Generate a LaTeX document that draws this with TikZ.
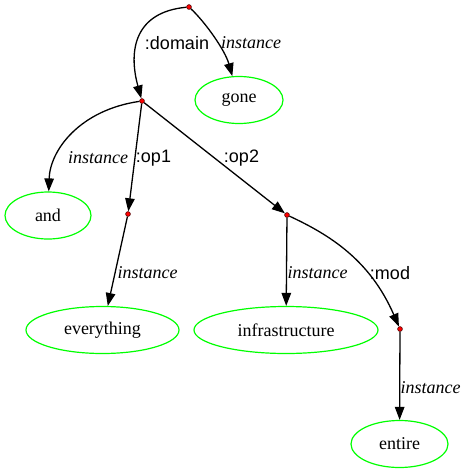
\documentclass[tikz,border=0pt]{standalone}
\usepackage{fontspec}
\setmainfont{Liberation Serif}
\setsansfont{Liberation Sans}
\usetikzlibrary{shapes.geometric,arrows.meta}
\definecolor{amrgreen}{RGB}{0,255,0}
\begin{document}
\begin{tikzpicture}[x=1pt,y=-1pt,
  concept/.style={ellipse, draw=amrgreen, line width=1.2pt, inner sep=0pt, minimum height=47pt, font=\fontsize{18}{20}\selectfont},
  dotnode/.style={circle, fill=red, draw=black!70!red, line width=0.6pt, inner sep=0pt, minimum size=4.8pt},
  edge/.style={-{Triangle[length=13pt,width=9.5pt]}, line width=1.3pt, black},
  rel/.style={font=\sffamily\fontsize{18}{20}\selectfont, inner sep=0pt},
  inst/.style={font=\itshape\fontsize{18}{20}\selectfont, inner sep=0pt}]
\useasboundingbox (0,0) rectangle (467,474);
\node[dotnode] (r) at (189,7) {};
\node[dotnode] (a) at (142,101) {};
\node[dotnode] (o1) at (128,214) {};
\node[dotnode] (o2) at (287,215) {};
\node[dotnode] (m) at (400,329) {};
\node[concept, minimum width=88pt] (gone) at (239,100) {gone};
\node[concept, minimum width=86pt] (and) at (48,215.5) {and};
\node[concept, minimum width=153pt] (every) at (102.5,330) {everything};
\node[concept, minimum width=184pt] (infra) at (286,330) {infrastructure};
\node[concept, minimum width=97pt] (entire) at (399.5,444) {entire};
\draw[edge] (r) .. controls (135,12) and (128,50) .. (a);
\draw[edge] (r) .. controls (205,22) and (225,50) .. (gone);
\draw[edge] (a) .. controls (80,110) and (50,150) .. (and);
\draw[edge] (a) -- (o1);
\draw[edge] (a) -- (o2);
\draw[edge] (o1) -- (every);
\draw[edge] (o2) -- (infra);
\draw[edge] (o2) .. controls (330,235) and (370,260) .. (m);
\draw[edge] (m) -- (entire);
\node[rel] (ldomain) at (177,43) {:domain};
\node[inst] (lgone) at (251,43) {instance};
\node[inst] (land) at (98,158) {instance};
\node[rel] (lop1) at (153.5,158) {:op1};
\node[rel] (lop2) at (241.5,158) {:op2};
\node[inst] (levery) at (147.5,273) {instance};
\node[inst] (linfra) at (317.5,273) {instance};
\node[rel] (lmod) at (390,273) {:mod};
\node[inst] (lentire) at (430.5,388) {instance};
\end{tikzpicture}
\end{document}
